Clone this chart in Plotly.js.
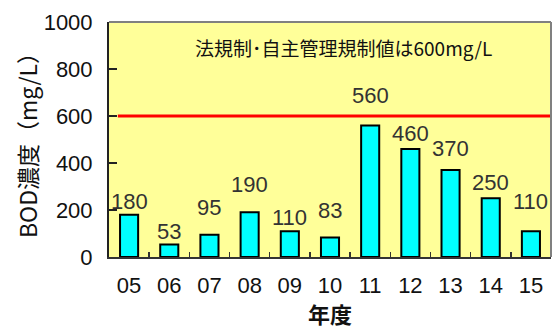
<!DOCTYPE html>
<html><head><meta charset="utf-8">
<script src="https://cdn.plot.ly/plotly-3.0.1.min.js"></script>
<style>html,body{margin:0;padding:0;background:#fff}#c{width:554px;height:329px}</style>
</head><body><div id="c"></div>
<script>
const years = ['05','06','07','08','09','10','11','12','13','14','15'];
const bod = [180, 53, 95, 190, 110, 83, 560, 460, 370, 250, 110];
const limitValue = 600;
const noteText = '法規制･自主管理規制値は600mg/L';
const yTicks = [0, 200, 400, 600, 800, 1000];
// extra label lift (px) per bar, label placement style as in source
const labelLift = [0, 0, 14, 14, 0, 14, 16, 2, 8, 2, 16];

const font = '"Liberation Sans", "Noto Sans CJK JP", sans-serif';
const jfont = '"Noto Sans CJK JP", sans-serif';

const annotations = years.map((y, i) => ({
  x: i, y: bod[i], xref: 'x', yref: 'y', text: String(bod[i]),
  showarrow: false, yanchor: 'bottom', yshift: -1 + labelLift[i],
  font: {family: font, size: 22, color: '#333333'}
}));
annotations.push({
  xref: 'paper', yref: 'paper', x: 0.19, y: 0.89, xanchor: 'left', yanchor: 'middle',
  text: noteText, showarrow: false, font: {family: jfont, size: 19, color: '#111'}
});

Plotly.newPlot('c', [{
  type: 'bar', x: years, y: bod, width: 0.45,
  marker: {color: '#00FFFF', line: {color: '#000', width: 2}},
  hoverinfo: 'none'
}], {
  width: 554, height: 329,
  margin: {l: 109, r: 3, t: 22, b: 72},
  paper_bgcolor: '#fff', plot_bgcolor: '#FFFF99',
  showlegend: false,
  xaxis: {
    type: 'category', range: [-0.5, years.length - 0.5], autorange: false,
    showline: true, linecolor: '#333', linewidth: 2, tickangle: 0,
    ticks: 'inside', tickson: 'boundaries', ticklen: 5, tickcolor: '#333', tickwidth: 1.5,
    ticklabelstandoff: 8,
    tickfont: {family: font, size: 22, color: '#111'},
    title: {text: '<b>年度</b>', font: {family: jfont, size: 22, color: '#111'}, standoff: 1},
    showgrid: false, zeroline: false, fixedrange: true
  },
  yaxis: {
    range: [0, 1000], tickvals: yTicks, showline: true, linecolor: '#222', linewidth: 2,
    ticks: 'inside', ticklen: 8, tickcolor: '#222', tickwidth: 1.5,
    ticklabelstandoff: 10,
    tickfont: {family: font, size: 22, color: '#111'},
    title: {text: 'BOD濃度（mg/L）', font: {family: jfont, size: 23, color: '#111'}, standoff: 0},
    showgrid: false, zeroline: false, fixedrange: true
  },
  shapes: [
    {type: 'line', xref: 'paper', yref: 'y', x0: 0.02, x1: 1, y0: limitValue, y1: limitValue,
     line: {color: '#FF0000', width: 3}},
    {type: 'line', xref: 'paper', yref: 'paper', x0: 0, x1: 1, y0: 1, y1: 1,
     line: {color: '#808080', width: 2}},
    {type: 'line', xref: 'paper', yref: 'paper', x0: 1, x1: 1, y0: 0, y1: 1,
     line: {color: '#808080', width: 2}}
  ],
  annotations: annotations
}, {staticPlot: true});
</script></body></html>
